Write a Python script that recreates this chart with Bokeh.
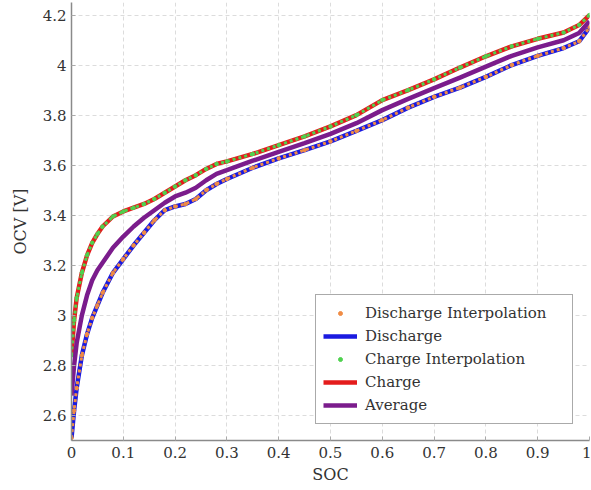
from bokeh.plotting import figure
from bokeh.models import Range1d, FixedTicker, CustomJSTickFormatter, Legend, LegendItem
from bokeh.embed import file_html
from bokeh.resources import INLINE

soc = [0, 0.005, 0.01, 0.02, 0.03, 0.04, 0.05, 0.06, 0.08, 0.10, 0.12, 0.14, 0.16,
       0.18, 0.20, 0.22, 0.24, 0.26, 0.28, 0.30, 0.35, 0.40, 0.45, 0.50, 0.55, 0.60,
       0.65, 0.70, 0.75, 0.80, 0.85, 0.90, 0.95, 0.98, 1.0]

discharge = [2.51, 2.62, 2.71, 2.84, 2.925, 2.99, 3.04, 3.09, 3.17, 3.225, 3.28, 3.33,
             3.38, 3.42, 3.435, 3.445, 3.465, 3.50, 3.525, 3.545, 3.59, 3.627, 3.66,
             3.695, 3.737, 3.78, 3.83, 3.873, 3.91, 3.953, 4.00, 4.037, 4.068, 4.095, 4.15]

charge = [2.84, 2.98, 3.07, 3.17, 3.24, 3.29, 3.325, 3.355, 3.395, 3.415, 3.43, 3.445,
          3.465, 3.49, 3.515, 3.54, 3.56, 3.585, 3.605, 3.615, 3.645, 3.68, 3.715,
          3.755, 3.80, 3.86, 3.90, 3.943, 3.99, 4.035, 4.075, 4.105, 4.13, 4.16, 4.2]

average = [2.68, 2.80, 2.89, 3.00, 3.08, 3.14, 3.18, 3.21, 3.27, 3.315, 3.355, 3.39,
           3.42, 3.45, 3.475, 3.49, 3.51, 3.54, 3.565, 3.58, 3.618, 3.653, 3.688,
           3.725, 3.768, 3.82, 3.865, 3.908, 3.95, 3.994, 4.037, 4.071, 4.099, 4.128, 4.175]

x_ticks = [0, 0.1, 0.2, 0.3, 0.4, 0.5, 0.6, 0.7, 0.8, 0.9, 1.0]
y_ticks = [2.6, 2.8, 3.0, 3.2, 3.4, 3.6, 3.8, 4.0, 4.2]

FONT = "DejaVu Serif"

p = figure(width=591, height=490, output_backend="svg", toolbar_location=None,
           x_range=Range1d(0, 1), y_range=Range1d(2.5, 4.25),
           min_border_left=71, min_border_right=2, min_border_top=2, min_border_bottom=50)
p.outline_line_color = None

r_dis = p.line(soc, discharge, line_color="#1a1ae0", line_width=4.5)
p.line(soc, discharge, line_color="#f08c45", line_width=3, line_dash="3 3")
r_dis_pts = p.scatter(soc, discharge, size=3.5, color="#f08c45")

r_ch = p.line(soc, charge, line_color="#e41c1c", line_width=4.5)
p.line(soc, charge, line_color="#4fd24f", line_width=3, line_dash="3 3")
r_ch_pts = p.scatter(soc, charge, size=3.5, color="#4fd24f")

r_avg = p.line(soc, average, line_color="#7b1c8c", line_width=4.5)

for ax in (p.xaxis[0], p.yaxis[0]):
    ax.axis_line_color = "#8a8a8a"
    ax.axis_line_width = 1.5
    ax.major_tick_in = 4
    ax.major_tick_out = 0
    ax.major_tick_line_color = "#aaaaaa"
    ax.minor_tick_line_color = None
    ax.major_label_text_font = FONT
    ax.major_label_text_font_size = "15px"
    ax.major_label_text_color = "#333333"
    ax.axis_label_text_font = FONT
    ax.axis_label_text_font_size = "16px"
    ax.axis_label_text_font_style = "normal"
    ax.axis_label_text_color = "#333333"

p.xaxis.ticker = FixedTicker(ticks=x_ticks)
p.yaxis.ticker = FixedTicker(ticks=y_ticks)
p.xaxis.formatter = CustomJSTickFormatter(code="return String(Math.round(tick*10)/10);")
p.yaxis.formatter = CustomJSTickFormatter(code="return String(Math.round(tick*10)/10);")
p.xaxis.axis_label = "SOC"
p.yaxis.axis_label = "OCV [V]"
p.xaxis.major_label_standoff = 6
p.yaxis.major_label_standoff = 5
p.xaxis.axis_label_standoff = 4
p.yaxis.axis_label_standoff = 10

for g in (p.xgrid[0], p.ygrid[0]):
    g.grid_line_color = "#dcdcdc"
    g.grid_line_dash = "4 3"
    g.grid_line_width = 1

legend = Legend(items=[
    LegendItem(label="Discharge Interpolation", renderers=[r_dis_pts]),
    LegendItem(label="Discharge", renderers=[r_dis]),
    LegendItem(label="Charge Interpolation", renderers=[r_ch_pts]),
    LegendItem(label="Charge", renderers=[r_ch]),
    LegendItem(label="Average", renderers=[r_avg]),
], location="bottom_right")
legend.margin = 16
legend.padding = 7
legend.spacing = 1
legend.glyph_width = 34
legend.glyph_height = 10
legend.label_height = 22
legend.label_width = 200
legend.label_standoff = 8
legend.label_text_font = FONT
legend.label_text_font_size = "15px"
legend.label_text_color = "#333333"
legend.border_line_color = "#555555"
legend.border_line_width = 1
legend.background_fill_alpha = 1
p.add_layout(legend, "center")

open("out.html", "w").write(file_html(p, INLINE))
